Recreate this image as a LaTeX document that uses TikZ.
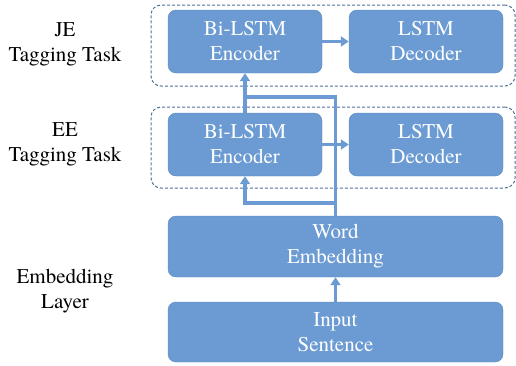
\documentclass[tikz,border=0pt]{standalone}
\usepackage{fontspec}
\setmainfont{texgyretermes-regular.otf}
\usetikzlibrary{arrows.meta}

\definecolor{boxBlue}{HTML}{6B9BD2}
\definecolor{edgeBlue}{HTML}{5A88BE}
\definecolor{dashBlue}{HTML}{4F7099}

\begin{document}
\begin{tikzpicture}[
    x=1pt, y=-1pt,
    block_style/.style={draw=edgeBlue, fill=boxBlue, rounded corners=8pt, text=white,
        align=center, font=\fontsize{21}{25}\selectfont, inner sep=0pt},
    task_style/.style={draw=dashBlue, line width=1pt, dash pattern=on 3pt off 2pt,
        rounded corners=10pt, inner sep=0pt, minimum width=364pt, minimum height=81pt},
    label_style/.style={align=center, font=\fontsize{21}{25}\selectfont},
    link_style/.style={draw=boxBlue, line width=3.2pt},
    arrow_style/.style={link_style, -{Triangle[length=8pt,width=10pt]}}
]
    \useasboundingbox (0,0) rectangle (516,365);

    % --- 任务框 ---
    \node[task_style] (jeTask) at (333,45.5) {};
    \node[task_style] (eeTask) at (333,147.5) {};

    % --- 左侧标签 ---
    \node[label_style] (jeLabel) at (65,44) {JE\\Tagging Task};
    \node[label_style] (eeLabel) at (65,144) {EE\\Tagging Task};
    \node[label_style] (embLabel) at (65,291) {Embedding\\Layer};

    % --- 编码器 / 解码器 ---
    \node[block_style, minimum width=154pt, minimum height=63pt] (jeEnc) at (245,41.5) {Bi-LSTM\\Encoder};
    \node[block_style, minimum width=154pt, minimum height=63pt] (jeDec) at (426,41.5) {LSTM\\Decoder};
    \node[block_style, minimum width=154pt, minimum height=63pt] (eeEnc) at (245,144.5) {Bi-LSTM\\Encoder};
    \node[block_style, minimum width=154pt, minimum height=63pt] (eeDec) at (426,144.5) {LSTM\\Decoder};

    % --- 嵌入层与输入 ---
    \node[block_style, minimum width=335pt, minimum height=61pt] (word) at (335.5,246.5) {Word\\Embedding};
    \node[block_style, minimum width=335pt, minimum height=60pt] (input) at (335.5,332) {Input\\Sentence};

    % --- 连线 ---
    \coordinate (jeJoin) at (245,97);
    \coordinate (eeJoin) at (245,203);

    \draw[arrow_style] (input) -- (word);
    \draw[arrow_style] (word.north) |- (eeJoin) -- (eeEnc.south);
    \draw[link_style] (word.north) |- (jeJoin);
    \draw[arrow_style] (eeEnc) -- (jeEnc);
    \draw[arrow_style] (jeEnc) -- (jeDec);
    \draw[arrow_style] (eeEnc) -- (eeDec);

\end{tikzpicture}
\end{document}
